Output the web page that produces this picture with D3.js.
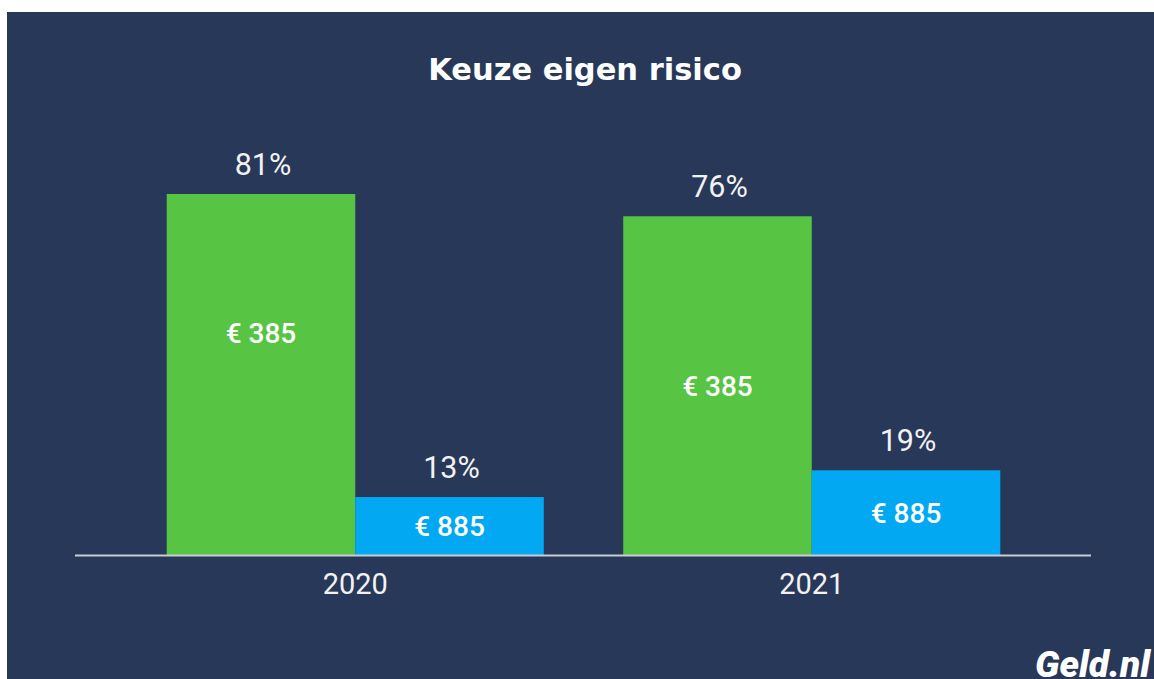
<!DOCTYPE html>
<html><head><meta charset="utf-8">
<script src="https://cdn.jsdelivr.net/npm/d3@7"></script>
<style>
html,body{margin:0;padding:0;background:#fff;}
svg{display:block;}
</style></head>
<body>
<script>
const years = ["2020", "2021"];
const seriesNames = ["€ 385", "€ 885"];
const shares385 = [81, 76];
const shares885 = [13, 19];
const percentLabels385 = ["81%", "76%"];
const percentLabels885 = ["13%", "19%"];

const W = 1154, H = 679;
const svg = d3.select("body").append("svg").attr("width", W).attr("height", H);
svg.append("rect").attr("x", 7).attr("y", 12).attr("width", W - 7).attr("height", H - 12).attr("fill", "#273859");

svg.append("text").attr("x", 585).attr("y", 79.5).attr("text-anchor", "middle")
  .attr("font-family", "DejaVu Sans").attr("font-weight", 700).attr("font-size", 30.5)
  .attr("fill", "#ffffff").text("Keuze eigen risico");

const baseY = 555;
const y = d3.scaleLinear().domain([0, 100]).range([baseY, 109.3]);
const x0 = d3.scaleBand().domain(years).range([127, 1040]).paddingInner(0.174).paddingOuter(0.087);
const x1 = d3.scaleBand().domain(seriesNames).range([0, x0.bandwidth()]);
const colors = {"€ 385": "#57c443", "€ 885": "#02a9f2"};

const rows = [];
years.forEach((yr, i) => {
  rows.push({year: yr, s: seriesNames[0], v: shares385[i], pct: percentLabels385[i], i, k: 0});
  rows.push({year: yr, s: seriesNames[1], v: shares885[i], pct: percentLabels885[i], i, k: 1});
});

const g = svg.append("g");
g.selectAll("rect.bar").data(rows).join("rect").attr("class", "bar")
  .attr("x", d => x0(d.year) + x1(d.s))
  .attr("width", x1.bandwidth())
  .attr("y", d => y(d.v))
  .attr("height", d => baseY - y(d.v))
  .attr("fill", d => colors[d.s]);

g.selectAll("text.pct").data(rows).join("text").attr("class", "pct")
  .attr("x", d => x0(d.year) + x1(d.s) + x1.bandwidth() / 2 + 2)
  .attr("y", d => y(d.v) - 19)
  .attr("text-anchor", "middle")
  .attr("font-family", "Roboto").attr("font-size", 30.5)
  .attr("fill", "#f2f2f2").text(d => d.pct);

g.selectAll("text.inner").data(rows).join("text").attr("class", "inner")
  .attr("x", d => x0(d.year) + x1(d.s) + x1.bandwidth() / 2)
  .attr("y", d => (y(d.v) + baseY) / 2 + 10 - (d.i === 0 && d.k === 0 ? 41 : 0))
  .attr("text-anchor", "middle")
  .attr("font-family", "Roboto").attr("font-weight", 500).attr("font-size", 28)
  .attr("fill", "#ffffff").text(d => d.s);

const axis = d3.axisBottom(x0).tickSize(0).tickPadding(0);
const ax = svg.append("g").attr("transform", `translate(0,${baseY})`).call(axis);
ax.select(".domain").remove();
ax.selectAll("text").attr("dy", null).attr("y", 39)
  .attr("font-family", "Roboto").attr("font-size", 29).attr("fill", "#f2f2f2");
svg.append("line").attr("x1", 75).attr("x2", 1091).attr("y1", baseY + 0.5).attr("y2", baseY + 0.5)
  .attr("stroke", "#c8ccd4").attr("stroke-width", 2);

svg.append("text").attr("x", 1150).attr("y", 677).attr("text-anchor", "end")
  .attr("font-family", "Roboto").attr("font-weight", 900).attr("font-style", "italic")
  .attr("font-size", 37).attr("fill", "#ffffff").text("Geld.nl");
</script>
</body></html>
